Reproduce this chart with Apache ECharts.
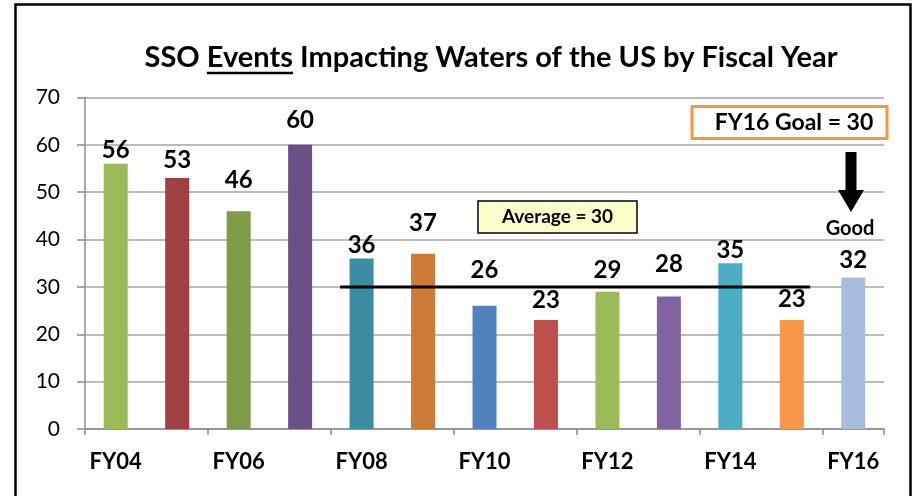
<!DOCTYPE html>
<html>
<head>
<meta charset="utf-8">
<script src="https://cdn.jsdelivr.net/npm/echarts@6/dist/echarts.min.js"></script>
<style>
  html, body { margin: 0; padding: 0; background: #fff; }
  #chart { width: 915px; height: 496px; }
</style>
</head>
<body>
<div id="chart"></div>
<script>
// data
var years = ['FY04', 'FY05', 'FY06', 'FY07', 'FY08', 'FY09', 'FY10', 'FY11', 'FY12', 'FY13', 'FY14', 'FY15', 'FY16'];
var events = [56, 53, 46, 60, 36, 37, 26, 23, 29, 28, 35, 23, 32];
var yTicks = [0, 10, 20, 30, 40, 50, 60, 70];
var average = 30;
var averageSpan = [4.15, 11.8]; // in category units along the x axis
var goal = 30;

// styling
var barColors = ['#9BBB59', '#A0413F', '#7F9A48', '#6A5087', '#3A8DA2', '#CE7B37', '#4F81BD',
  '#C0504D', '#9BBB59', '#8064A2', '#4BACC6', '#F79646', '#AABCDB'];
var labelLift = [2, 6, 19, 13, 1, 19, 24, 8, 9, 20, 1, 9, 5]; // hand placed labels in the original
var FONT = 'Lato, "Open Sans", sans-serif';

var chart = echarts.init(document.getElementById('chart'));

// measure text for the underline under "Events"
var ctx = document.createElement('canvas').getContext('2d');
var titleSize = 29;
ctx.font = 'bold ' + titleSize + 'px ' + FONT;
var t1 = 'SSO ', t2 = 'Events', t3 = ' Impacting Waters of the US by Fiscal Year';
var w1 = ctx.measureText(t1).width, w2 = ctx.measureText(t2).width, w3 = ctx.measureText(t3).width;
var titleCx = 491, titleCy = 58;
var titleLeft = titleCx - (w1 + w2 + w3) / 2;

var option = {
  animation: false,
  textStyle: { fontFamily: FONT },
  grid: { left: 85, right: 31, top: 97.5, bottom: 67, containLabel: false },
  xAxis: [{
    type: 'category',
    data: years,
    axisLine: { lineStyle: { color: '#8C8C8C', width: 1.5 } },
    axisTick: { show: true, length: 6, lineStyle: { color: '#8C8C8C', width: 1.5 } },
    axisLabel: { interval: 1, margin: 22, color: '#000', fontSize: 22, fontWeight: 'bold', fontFamily: FONT }
  }, {
    type: 'value', min: 0, max: years.length, show: false
  }],
  yAxis: {
    type: 'value',
    min: yTicks[0],
    max: yTicks[yTicks.length - 1],
    interval: 10,
    axisLine: { show: true, lineStyle: { color: '#8C8C8C', width: 1.5 } },
    axisTick: { show: true, length: 8, lineStyle: { color: '#8C8C8C', width: 1.5 } },
    axisLabel: { margin: 25, color: '#000', fontSize: 21, fontFamily: FONT },
    splitLine: { lineStyle: { color: '#A6A6A6', width: 1.5 } }
  },
  series: [{
    type: 'bar',
    barWidth: 24,
    data: events.map(function (v, i) {
      return {
        value: v,
        itemStyle: { color: barColors[i] },
        label: { distance: labelLift[i] }
      };
    }),
    label: {
      show: true,
      position: 'top',
      color: '#000',
      fontSize: 24,
      fontWeight: 'bold',
      fontFamily: FONT
    }
  }, {
    type: 'line',
    xAxisIndex: 1,
    data: [[averageSpan[0], average], [averageSpan[1], average]],
    symbol: 'none',
    lineStyle: { color: '#000', width: 3 },
    z: 5
  }],
  graphic: [
    // outer frame
    { type: 'rect', shape: { x: 15.5, y: 4.5, width: 895, height: 540 },
      style: { fill: null, stroke: '#000', lineWidth: 2.5 }, z: 100 },
    // title
    { type: 'text', x: titleLeft, y: titleCy,
      style: { text: t1 + t2 + t3, font: 'bold ' + titleSize + 'px ' + FONT, fill: '#000', textVerticalAlign: 'middle' } },
    { type: 'line', shape: { x1: titleLeft + w1, y1: titleCy + 15, x2: titleLeft + w1 + w2, y2: titleCy + 15 },
      style: { stroke: '#000', lineWidth: 2.5 } },
    // average box
    { type: 'rect', shape: { x: 478, y: 201, width: 159, height: 32 },
      style: { fill: '#FFFFCC', stroke: '#000', lineWidth: 1.5 }, z: 10 },
    { type: 'text', x: 557.5, y: 217, z: 11,
      style: { text: 'Average = ' + average, font: 'bold 19px ' + FONT, fill: '#000', textAlign: 'center', textVerticalAlign: 'middle' } },
    // goal box
    { type: 'rect', shape: { x: 692, y: 106.5, width: 195, height: 32 },
      style: { fill: '#fff', stroke: '#F79646', lineWidth: 3 }, z: 10 },
    { type: 'text', x: 794, y: 122.5, z: 11,
      style: { text: 'FY16 Goal = ' + goal, font: 'bold 23px ' + FONT, fill: '#000', textAlign: 'center', textVerticalAlign: 'middle' } },
    // arrow
    { type: 'polygon', z: 10,
      shape: { points: [[845.5, 152], [856.5, 152], [856.5, 190], [864, 190], [851, 212], [838, 190], [845.5, 190]] },
      style: { fill: '#000' } },
    { type: 'text', x: 850, y: 229, z: 11,
      style: { text: 'Good', font: 'bold 20px ' + FONT, fill: '#000', textAlign: 'center', textVerticalAlign: 'middle' } }
  ]
};

chart.setOption(option);
</script>
</body>
</html>
